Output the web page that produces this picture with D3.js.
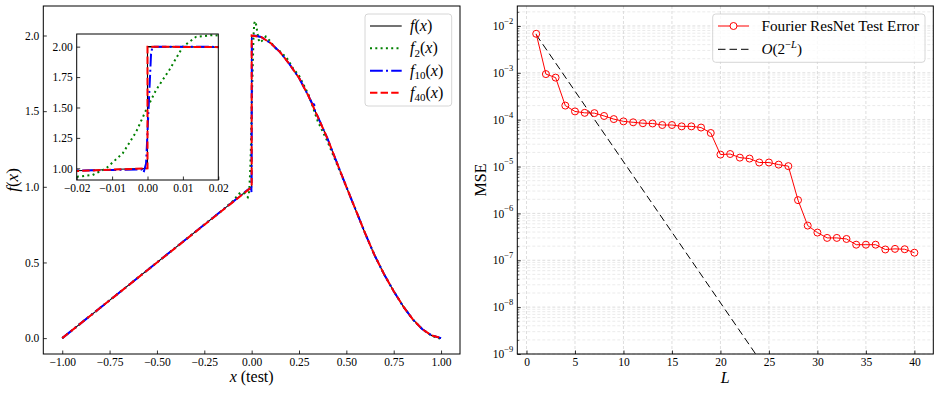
<!DOCTYPE html>
<html lang="en">
<head>
<meta charset="utf-8">
<title>Fourier ResNet approximation</title>
<script src="https://d3js.org/d3.v7.min.js"></script>
<style>
  body { margin: 0; background: #fff; }
  svg text { font-family: "Liberation Serif", "DejaVu Serif", serif; fill: #000; }
  .tick text { font-size: 11.5px; }
</style>
</head>
<body>
<script>
// ---- values ----

// left panel: target function f(x)
var fX = [-1.0, 0.0, 0.0, 0.05, 0.1, 0.15, 0.2, 0.25, 0.3, 0.35, 0.4, 0.45, 0.5,
          0.55, 0.6, 0.65, 0.7, 0.75, 0.8, 0.85, 0.9, 0.95, 1.0];
var fY = [0.0, 1.0, 2.0, 1.99, 1.95, 1.89, 1.81, 1.72, 1.60, 1.46, 1.32, 1.16, 1.00,
          0.845, 0.69, 0.545, 0.42, 0.31, 0.21, 0.125, 0.06, 0.018, 0.0];

// f_2 (green dotted, oscillates round the jump)
var f2X = [-1.0, -0.9, -0.8, -0.7, -0.6, -0.5, -0.4, -0.3, -0.2, -0.15, -0.1, -0.06, -0.035,
           -0.02, -0.0155, -0.0117, -0.007, -0.0032, -0.0004, 0.0024, 0.0062, 0.01, 0.0137,
           0.0184, 0.022, 0.03, 0.04, 0.055, 0.075, 0.1, 0.12, 0.15, 0.185, 0.22, 0.25, 0.3,
           0.35, 0.4, 0.45, 0.5, 0.55, 0.6, 0.65, 0.7, 0.75, 0.8, 0.85, 0.9, 0.95, 1.0];
var f2Y = [0.0, 0.1, 0.2, 0.3, 0.4, 0.5, 0.6, 0.7, 0.8, 0.85, 0.905, 0.962, 0.955,
           0.931, 0.945, 1.0, 1.123, 1.30, 1.479, 1.643, 1.81, 2.0, 2.08,
           2.095, 2.085, 2.02, 1.955, 1.965, 1.993, 1.96, 1.922, 1.895, 1.852, 1.78, 1.735, 1.61,
           1.43, 1.30, 1.15, 1.0, 0.845, 0.69, 0.545, 0.42, 0.31, 0.21, 0.125, 0.06, 0.015, -0.005];

// f_10 (blue dash-dot)
var f10X = [-1.0, -0.5, -0.1, -0.02, -0.0016, -0.0011, -0.0004, 0.0010, 0.0014, 0.02, 0.05,
            0.1, 0.15, 0.2, 0.25, 0.3, 0.32, 0.33, 0.335, 0.345, 0.4, 0.45, 0.5, 0.55, 0.6,
            0.65, 0.7, 0.75, 0.8, 0.85, 0.9, 0.95, 1.0];
var f10Y = [0.0, 0.5, 0.9, 0.982, 0.99, 0.965, 1.04, 1.94, 2.0, 1.998, 1.99,
            1.95, 1.89, 1.81, 1.72, 1.60, 1.55, 1.545, 1.50, 1.475, 1.32, 1.16, 1.00, 0.845, 0.69,
            0.545, 0.42, 0.31, 0.21, 0.125, 0.06, 0.018, 0.0];

// f_40 (red dashed) sits on top of f
var f40X = [-1.0, -0.02, 0.0, 0.0, 0.05, 0.1, 0.15, 0.2, 0.25, 0.3, 0.35, 0.4, 0.45, 0.5,
            0.55, 0.6, 0.65, 0.7, 0.75, 0.8, 0.85, 0.9, 0.95, 1.0];
var f40Y = [0.0, 0.978, 1.0, 2.0, 1.99, 1.95, 1.89, 1.81, 1.72, 1.60, 1.46, 1.32, 1.16, 1.00,
            0.845, 0.69, 0.545, 0.42, 0.31, 0.21, 0.125, 0.06, 0.018, 0.0];

var xTicksL = [-1, -0.75, -0.5, -0.25, 0, 0.25, 0.5, 0.75, 1];
var yTicksL = [0, 0.5, 1, 1.5, 2];
var xTicksIn = [-0.02, -0.01, 0, 0.01, 0.02];
var yTicksIn = [1, 1.25, 1.5, 1.75, 2];

// right panel: test error per depth L
var depthL = [1, 2, 3, 4, 5, 6, 7, 8, 9, 10, 11, 12, 13, 14, 15, 16, 17, 18, 19, 20,
              21, 22, 23, 24, 25, 26, 27, 28, 29, 30, 31, 32, 33, 34, 35, 36, 37, 38, 39, 40];
var testMSE = [6.8e-3, 9.4e-4, 7.9e-4, 2.0e-4, 1.5e-4, 1.4e-4, 1.38e-4, 1.2e-4, 1.03e-4, 9.2e-5,
               8.8e-5, 8.4e-5, 8.3e-5, 7.7e-5, 7.7e-5, 7.2e-5, 7.2e-5, 6.8e-5, 5.2e-5, 1.8e-5,
               1.85e-5, 1.55e-5, 1.48e-5, 1.22e-5, 1.22e-5, 1.1e-5, 1.02e-5, 1.92e-6, 5.5e-7, 3.9e-7,
               3.0e-7, 3.0e-7, 2.85e-7, 2.15e-7, 2.15e-7, 2.15e-7, 1.7e-7, 1.75e-7, 1.72e-7, 1.45e-7];
// O(2^-L) guide, straight on the log axis
var refL = [1, 40];
var refMSE = [6.5e-3, 1.18e-14];

var xTicksR = [0, 5, 10, 15, 20, 25, 30, 35, 40];
var yDecadesR = [1e-9, 1e-8, 1e-7, 1e-6, 1e-5, 1e-4, 1e-3, 1e-2];

// ---- drawing ----
var w = 940, h = 393;
var svg = d3.select("body").append("svg").attr("width", w).attr("height", h);
var defs = svg.append("defs");

function zip(xs, ys) { return xs.map(function(x, i) { return [x, ys[i]]; }); }

var seriesL = [
  { x: fX,   y: fY,   color: "#000000", width: 1.1, dash: null,                  sub: "" },
  { x: f2X,  y: f2Y,  color: "#008000", width: 2,   dash: "2,3.3",               sub: "2" },
  { x: f10X, y: f10Y, color: "#0000ff", width: 2,   dash: "12.8,3.2,2,3.2",      sub: "10" },
  { x: f40X, y: f40Y, color: "#ff0000", width: 2,   dash: "7.4,3.2",             sub: "40" }
];

function clip(id, x0, y0, x1, y1) {
  defs.append("clipPath").attr("id", id).append("rect")
    .attr("x", x0).attr("y", y0).attr("width", x1 - x0).attr("height", y1 - y0);
}

function cleanAxis(g) {
  g.select(".domain").remove();
  g.selectAll(".tick line").attr("stroke", "#000").attr("stroke-width", 0.8);
}

function frame(x0, y0, x1, y1) {
  svg.append("rect").attr("x", x0).attr("y", y0).attr("width", x1 - x0).attr("height", y1 - y0)
    .attr("fill", "none").attr("stroke", "#000").attr("stroke-width", 1);
}

function drawLines(g, xs, ys) {
  var line = d3.line().x(function(d) { return xs(d[0]); }).y(function(d) { return ys(d[1]); });
  seriesL.forEach(function(s) {
    g.append("path")
      .datum(zip(s.x, s.y))
      .attr("d", line)
      .attr("fill", "none")
      .attr("stroke", s.color)
      .attr("stroke-width", s.width)
      .attr("stroke-dasharray", s.dash);
  });
}

// --- left panel ---
var L0 = 43.3, L1 = 460, T0 = 6, B0 = 354;
var xL = d3.scaleLinear().domain([-1.1, 1.1]).range([L0, L1]);
var yL = d3.scaleLinear().domain([-0.105, 2.195]).range([B0, T0]);
clip("clipL", L0, T0, L1, B0);

svg.append("rect").attr("x", L0).attr("y", T0).attr("width", L1 - L0).attr("height", B0 - T0).attr("fill", "#fff");
drawLines(svg.append("g").attr("clip-path", "url(#clipL)"), xL, yL);

svg.append("g").attr("transform", "translate(0," + B0 + ")")
  .call(d3.axisBottom(xL).tickValues(xTicksL).tickFormat(d3.format(".2f")).tickSize(-3.5).tickPadding(4))
  .call(cleanAxis);
svg.append("g").attr("transform", "translate(" + L0 + ",0)")
  .call(d3.axisLeft(yL).tickValues(yTicksL).tickFormat(d3.format(".1f")).tickSize(-3.5).tickPadding(4))
  .call(cleanAxis);
frame(L0, T0, L1, B0);

// inset
var I0 = 76.7, I1 = 218.3, IT = 34, IB = 180;
var xIn = d3.scaleLinear().domain([-0.02, 0.02]).range([I0, I1]);
var yIn = d3.scaleLinear().domain([0.904, 2.104]).range([IB, IT]);
clip("clipIn", I0, IT, I1, IB);
svg.append("rect").attr("x", I0).attr("y", IT).attr("width", I1 - I0).attr("height", IB - IT).attr("fill", "#fff");
drawLines(svg.append("g").attr("clip-path", "url(#clipIn)"), xIn, yIn);
svg.append("g").attr("transform", "translate(0," + IB + ")")
  .call(d3.axisBottom(xIn).tickValues(xTicksIn).tickFormat(d3.format(".2f")).tickSize(-3.5).tickPadding(4))
  .call(cleanAxis);
svg.append("g").attr("transform", "translate(" + I0 + ",0)")
  .call(d3.axisLeft(yIn).tickValues(yTicksIn).tickFormat(d3.format(".2f")).tickSize(-3.5).tickPadding(4))
  .call(cleanAxis);
frame(I0, IT, I1, IB);

// axis labels
var xlab = svg.append("text").attr("x", (L0 + L1) / 2).attr("y", 382)
  .attr("text-anchor", "middle").attr("font-size", 16);
xlab.append("tspan").attr("font-style", "italic").text("x");
xlab.append("tspan").text(" (test)");

var ylab = svg.append("text").attr("transform", "translate(18," + (T0 + B0) / 2 + ") rotate(-90)")
  .attr("text-anchor", "middle").attr("font-size", 17);
ylab.append("tspan").attr("font-style", "italic").text("f");
ylab.append("tspan").text("(");
ylab.append("tspan").attr("font-style", "italic").text("x");
ylab.append("tspan").text(")");

// legend (left)
var legL = svg.append("g");
legL.append("rect").attr("x", 365).attr("y", 14).attr("width", 86.7).attr("height", 92)
  .attr("rx", 3).attr("fill", "#fff").attr("fill-opacity", 0.8).attr("stroke", "#cccccc").attr("stroke-width", 0.8);
var rowY = [26, 48.3, 70.7, 92.7];
seriesL.forEach(function(s, i) {
  legL.append("line").attr("x1", 370).attr("x2", 401.7).attr("y1", rowY[i]).attr("y2", rowY[i])
    .attr("stroke", s.color).attr("stroke-width", s.width).attr("stroke-dasharray", s.dash);
  var t = legL.append("text").attr("x", 410).attr("y", rowY[i] + 5).attr("font-size", 16);
  t.append("tspan").attr("font-style", "italic").text("f");
  if (s.sub) {
    t.append("tspan").attr("font-size", 11).attr("dy", 3.5).text(s.sub);
    t.append("tspan").attr("dy", -3.5).text("(");
  } else {
    t.append("tspan").text("(");
  }
  t.append("tspan").attr("font-style", "italic").text("x");
  t.append("tspan").text(")");
});

// --- right panel ---
var R0 = 517.3, R1 = 933.3;
var xR = d3.scaleLinear().domain([-0.95, 41.95]).range([R0, R1]);
var yR = d3.scaleLog().domain([1e-9, Math.pow(10, -1.574)]).range([B0, T0]);
clip("clipR", R0, T0, R1, B0);

var minorR = [];
yDecadesR.forEach(function(d) {
  for (var m = 2; m <= 9; m++) {
    var v = d * m;
    if (v <= yR.domain()[1]) minorR.push(v);
  }
});

var grid = svg.append("g");
grid.selectAll(".ymin").data(minorR).join("line")
  .attr("x1", R0).attr("x2", R1).attr("y1", function(d) { return yR(d); }).attr("y2", function(d) { return yR(d); })
  .attr("stroke", "#e3e3e3").attr("stroke-width", 0.7).attr("stroke-dasharray", "3,2");
grid.selectAll(".ymaj").data(yDecadesR).join("line")
  .attr("x1", R0).attr("x2", R1).attr("y1", function(d) { return yR(d); }).attr("y2", function(d) { return yR(d); })
  .attr("stroke", "#d6d6d6").attr("stroke-width", 0.8).attr("stroke-dasharray", "3,2");
grid.selectAll(".xmaj").data(xTicksR).join("line")
  .attr("y1", T0).attr("y2", B0).attr("x1", function(d) { return xR(d); }).attr("x2", function(d) { return xR(d); })
  .attr("stroke", "#d6d6d6").attr("stroke-width", 0.8).attr("stroke-dasharray", "3,2");

var plotR = svg.append("g").attr("clip-path", "url(#clipR)");
var lineR = d3.line().x(function(d) { return xR(d[0]); }).y(function(d) { return yR(d[1]); });
plotR.append("path").datum(zip(refL, refMSE)).attr("d", lineR)
  .attr("fill", "none").attr("stroke", "#000").attr("stroke-width", 1).attr("stroke-dasharray", "7.5,4");
plotR.append("path").datum(zip(depthL, testMSE)).attr("d", lineR)
  .attr("fill", "none").attr("stroke", "#ff0000").attr("stroke-width", 1);
plotR.selectAll("circle").data(zip(depthL, testMSE)).join("circle")
  .attr("cx", function(d) { return xR(d[0]); }).attr("cy", function(d) { return yR(d[1]); })
  .attr("r", 3.5).attr("fill", "none").attr("stroke", "#ff0000").attr("stroke-width", 1);

svg.append("g").attr("transform", "translate(0," + B0 + ")")
  .call(d3.axisBottom(xR).tickValues(xTicksR).tickFormat(d3.format("d")).tickSize(-3.5).tickPadding(4))
  .call(cleanAxis);
svg.append("g").attr("transform", "translate(" + R0 + ",0)")
  .call(d3.axisLeft(yR).tickValues(minorR).tickFormat("").tickSize(-2))
  .call(cleanAxis)
  .selectAll(".tick line").attr("stroke-width", 0.6);
var yAxR = svg.append("g").attr("transform", "translate(" + R0 + ",0)")
  .call(d3.axisLeft(yR).tickValues(yDecadesR).tickFormat("").tickSize(-3.5).tickPadding(4))
  .call(cleanAxis);
yAxR.selectAll(".tick text").each(function(d) {
  var t = d3.select(this);
  t.text(null);
  t.append("tspan").text("10");
  t.append("tspan").attr("font-size", 8.5).attr("dy", "-0.75em")
    .text("\u2212" + Math.round(-Math.log10(d)));
});
frame(R0, T0, R1, B0);

svg.append("text").attr("x", (R0 + R1) / 2).attr("y", 383).attr("text-anchor", "middle")
  .attr("font-size", 16).attr("font-style", "italic").text("L");
svg.append("text").attr("transform", "translate(486," + (T0 + B0) / 2 + ") rotate(-90)")
  .attr("text-anchor", "middle").attr("font-size", 16).text("MSE");

// legend (right)
var legR = svg.append("g");
legR.append("rect").attr("x", 712.7).attr("y", 14).attr("width", 212.3).attr("height", 48.3)
  .attr("rx", 3).attr("fill", "#fff").attr("fill-opacity", 0.8).attr("stroke", "#cccccc").attr("stroke-width", 0.8);
legR.append("line").attr("x1", 718).attr("x2", 749).attr("y1", 26).attr("y2", 26)
  .attr("stroke", "#ff0000").attr("stroke-width", 1);
legR.append("circle").attr("cx", 733.5).attr("cy", 26).attr("r", 3.5)
  .attr("fill", "#fff").attr("stroke", "#ff0000").attr("stroke-width", 1);
legR.append("text").attr("x", 761.5).attr("y", 31).attr("font-size", 15.2).text("Fourier ResNet Test Error");
legR.append("line").attr("x1", 718).attr("x2", 749).attr("y1", 49.3).attr("y2", 49.3)
  .attr("stroke", "#000").attr("stroke-width", 1).attr("stroke-dasharray", "7.5,4");
var oLab = legR.append("text").attr("x", 761.5).attr("y", 54.3).attr("font-size", 15.2);
oLab.append("tspan").attr("font-style", "italic").text("O");
oLab.append("tspan").text("(2");
oLab.append("tspan").attr("font-size", 10.5).attr("dy", -6).text("\u2212");
oLab.append("tspan").attr("font-size", 10.5).attr("font-style", "italic").text("L");
oLab.append("tspan").attr("dy", 6).text(")");
</script>
</body>
</html>
